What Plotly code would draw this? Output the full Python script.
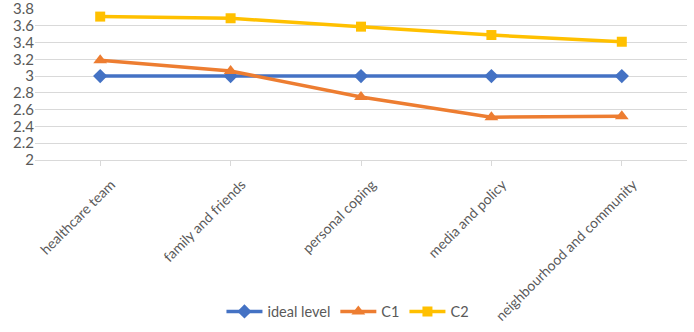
import plotly.graph_objects as go

categories = ["healthcare team", "family and friends", "personal coping", "media and policy", "neighbourhood and community"]
ideal_level = [3, 3, 3, 3, 3]
c1 = [3.19, 3.06, 2.75, 2.51, 2.52]
c2 = [3.71, 3.69, 3.59, 3.49, 3.41]
y_ticks = [2, 2.2, 2.4, 2.6, 2.8, 3, 3.2, 3.4, 3.6, 3.8]

FONT = "Lato"
GRAY = "#595959"

fig = go.Figure()
fig.add_trace(go.Scatter(x=categories, y=ideal_level, name="ideal level", mode="lines+markers",
                         line=dict(color="#4472C4", width=3.5),
                         marker=dict(symbol="diamond", size=11, color="#4472C4")))
fig.add_trace(go.Scatter(x=categories, y=c1, name="C1", mode="lines+markers",
                         line=dict(color="#ED7D31", width=3.5),
                         marker=dict(symbol="triangle-up", size=12, color="#ED7D31")))
fig.add_trace(go.Scatter(x=categories, y=c2, name="C2", mode="lines+markers",
                         line=dict(color="#FFC000", width=3.5),
                         marker=dict(symbol="square", size=10, color="#FFC000")))

fig.update_layout(
    width=694, height=332,
    margin=dict(l=35, r=7, t=9, b=171),
    paper_bgcolor="white", plot_bgcolor="white",
    font=dict(family=FONT, size=15, color=GRAY),
    showlegend=True,
    legend=dict(orientation="h", x=0.48, xanchor="center", y=-0.99, yanchor="middle",
                font=dict(size=14.5, color=GRAY), itemwidth=36, tracegroupgap=0),
)
fig.update_xaxes(type="category", tickangle=-45, ticks="outside", ticklen=5, tickcolor="#D9D9D9",
                 showgrid=False, showline=True, linecolor="#D9D9D9", linewidth=1, automargin=False,
                 ticklabelstandoff=5, ticklabelshift=11, ticklabeloverflow="allow",
                 tickfont=dict(family=FONT, size=14, color=GRAY), range=[-0.5, 4.5])
fig.update_yaxes(range=[1.9995, 3.8005], tickvals=y_ticks, ticktext=[f"{v:g}" for v in y_ticks],
                 showgrid=True, gridcolor="#D9D9D9", gridwidth=1, zeroline=False, automargin=False,
                 ticklabeloverflow="allow",
                 showline=False, ticks="", tickfont=dict(family=FONT, size=15, color=GRAY))

fig.write_html("out.html")
